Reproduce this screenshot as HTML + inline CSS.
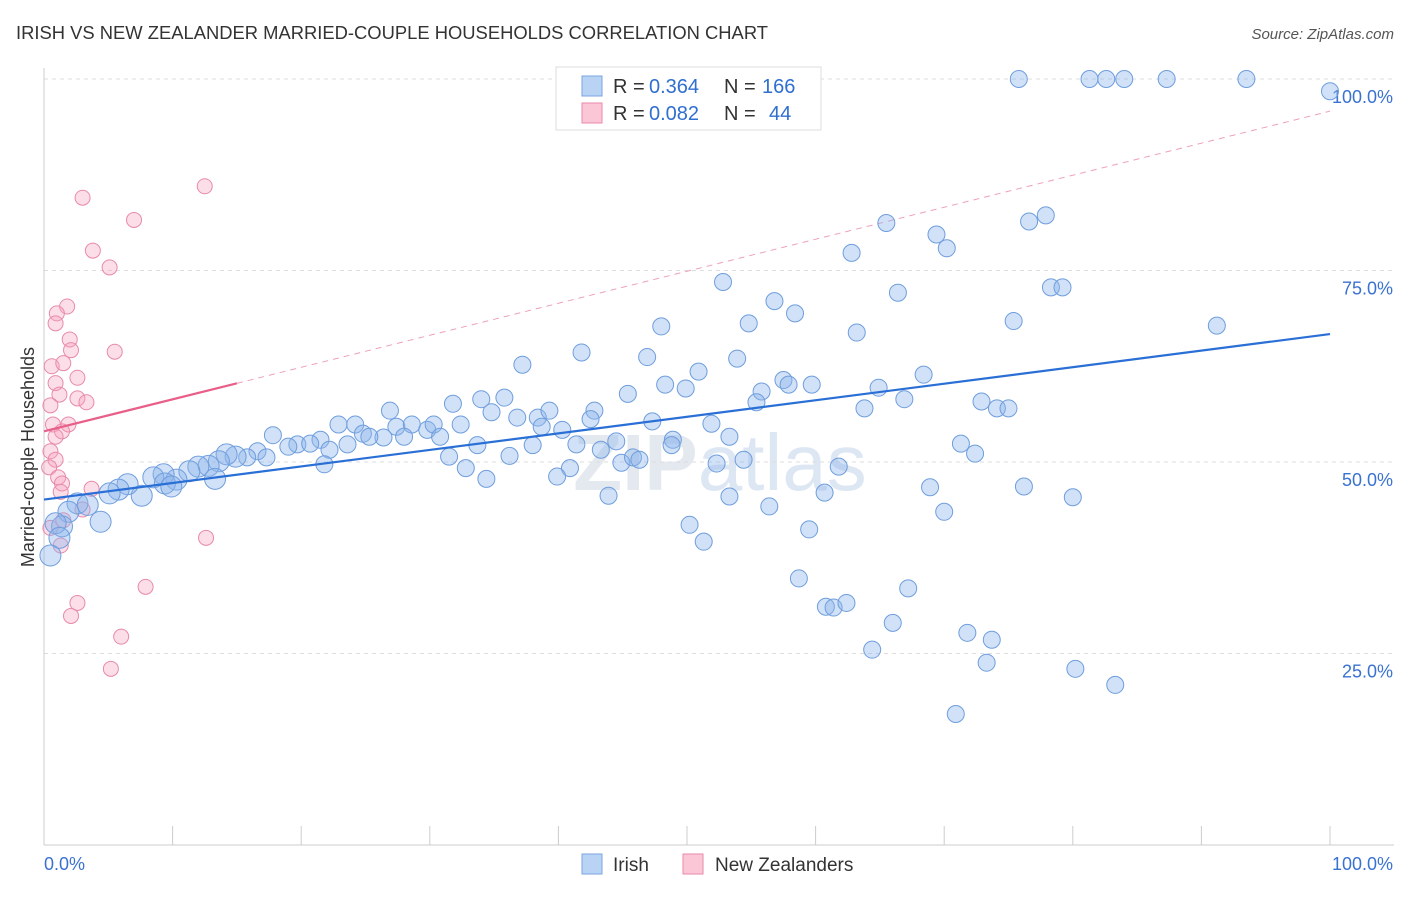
<!DOCTYPE html>
<html><head><meta charset="utf-8"><style>
body{margin:0;background:#fff;font-family:"Liberation Sans",sans-serif;}
svg text{font-family:"Liberation Sans",sans-serif;}
</style></head><body>
<svg id="chart" width="1406" height="892" viewBox="0 0 1406 892" xmlns="http://www.w3.org/2000/svg">
<text x="16" y="39" font-size="18.4" fill="#333" textLength="752" lengthAdjust="spacingAndGlyphs">IRISH VS NEW ZEALANDER MARRIED-COUPLE HOUSEHOLDS CORRELATION CHART</text>
<text x="1394" y="39" font-size="15" fill="#555" text-anchor="end" font-style="italic">Source: ZipAtlas.com</text>
<text x="720" y="490" font-size="80" fill="#e4e9f0" text-anchor="middle" font-weight="bold">ZIP<tspan fill="#dde7f4" font-weight="normal">atlas</tspan></text>
<g id="grid"></g>
<g id="axes"></g>
<g id="trend"></g>
<g id="pts"></g>
<text transform="translate(34,457) rotate(-90)" font-size="18" fill="#333" text-anchor="middle">Married-couple Households</text>
<g>
<rect x="556" y="67" width="265" height="63" fill="#fff" stroke="#ddd"/>
<rect x="582" y="76" width="20" height="20" fill="#b9d3f5" stroke="#7aa6e0"/>
<rect x="582" y="103" width="20" height="20" fill="#fbc7d7" stroke="#e88aab"/>
<text x="613" y="93" font-size="20" fill="#333">R =</text>
<text x="649" y="93" font-size="20" fill="#2f6fd0">0.364</text>
<text x="724" y="93" font-size="20" fill="#333">N =</text>
<text x="762" y="93" font-size="20" fill="#2f6fd0">166</text>
<text x="613" y="120" font-size="20" fill="#333">R =</text>
<text x="649" y="120" font-size="20" fill="#2f6fd0">0.082</text>
<text x="724" y="120" font-size="20" fill="#333">N =</text>
<text x="769" y="120" font-size="20" fill="#2f6fd0">44</text>
</g>
<g>
<rect x="582" y="854" width="20" height="20" fill="#b9d3f5" stroke="#7aa6e0"/>
<text x="613" y="871" font-size="19" fill="#333">Irish</text>
<rect x="683" y="854" width="20" height="20" fill="#fbc7d7" stroke="#e88aab"/>
<text x="715" y="871" font-size="19" fill="#333">New Zealanders</text>
</g>
</svg>
<script>
const yTicks=[25,50,75,100];
const yTickLabels=["25.0%","50.0%","75.0%","100.0%"];
const xTickLabels=["0.0%","100.0%"];
const irishX=[75.8,81.3,82.6,84.0,87.3,93.5,100,65.5,69.4,70.2,76.6,77.9,62.8,52.8,66.4,78.3,79.2,56.8,58.4,48.0,54.8,63.2,75.4,91.2,41.8,46.9,53.9,37.2,50.9,68.4,48.3,49.9,57.5,57.9,59.7,64.9,45.4,55.8,55.4,66.9,34.0,35.8,31.8,72.9,74.1,75.0,63.8,26.9,34.8,36.8,38.4,39.3,42.8,42.5,47.3,51.9,22.9,24.2,27.4,28.6,29.8,30.3,32.4,24.8,26.4,28.0,30.8,25.3,38.7,40.3,21.5,17.8,19.7,20.7,19.0,23.6,22.2,33.7,38.0,41.4,44.5,48.9,53.3,43.3,48.8,31.5,36.2,21.8,32.8,34.4,40.9,39.9,44.9,45.8,46.3,52.3,54.4,61.8,71.3,72.4,16.6,17.3,15.8,14.9,14.2,13.6,12.8,12.0,11.3,10.3,9.3,8.5,9.4,13.3,9.9,7.6,6.5,5.8,5.1,2.6,1.9,3.4,4.4,1.4,0.9,1.2,0.5,60.7,68.9,70.0,76.2,80.0,56.4,50.2,51.3,59.5,58.7,60.8,61.4,62.4,67.2,66.0,71.8,73.7,64.4,73.3,80.2,83.3,70.9,43.9,53.3];
const irishY=[100,100,100,100,100,100,98.4,81.2,79.7,77.9,81.4,82.2,77.3,73.5,72.1,72.8,72.8,71.0,69.4,67.7,68.1,66.9,68.4,67.8,64.3,63.7,63.5,62.7,61.8,61.4,60.1,59.6,60.7,60.1,60.1,59.7,58.9,59.2,57.8,58.2,58.2,58.4,57.6,57.9,57.0,57.0,57.0,56.7,56.5,55.8,55.8,56.7,56.7,55.6,55.3,55.0,54.9,54.9,54.6,54.9,54.2,54.9,54.9,53.7,53.2,53.3,53.3,53.3,54.6,54.2,52.9,53.5,52.3,52.4,52.0,52.3,51.6,52.2,52.2,52.3,52.7,52.9,53.3,51.6,52.2,50.7,50.8,49.7,49.2,47.8,49.2,48.1,49.9,50.6,50.3,49.8,50.3,49.4,52.4,51.1,51.4,50.6,50.6,50.7,51.0,50.1,49.5,49.4,48.8,47.7,48.4,48.0,47.2,47.8,46.8,45.6,47.1,46.4,45.9,44.6,43.5,44.4,42.2,41.6,42.0,40.1,37.8,46.0,46.7,43.5,46.8,45.4,44.2,41.8,39.6,41.2,34.8,31.1,31.0,31.6,33.5,29.0,27.7,26.8,25.5,23.8,23.0,20.9,17.1,45.6,45.5];
const nzX=[3.0,12.5,7.0,3.8,5.1,1.8,1.0,0.9,2.0,2.1,5.5,0.6,1.5,2.6,0.9,1.2,2.6,3.3,0.5,0.7,1.9,1.4,0.9,0.5,0.9,0.4,1.1,1.4,3.7,1.3,3.0,1.5,0.5,12.6,1.3,7.9,2.6,2.1,6.0,5.2];
const nzY=[84.5,86.0,81.6,77.6,75.4,70.3,69.4,68.1,66.0,64.6,64.4,62.5,62.9,61.0,60.3,58.8,58.3,57.8,57.4,54.9,54.9,54.0,53.3,51.4,50.3,49.3,48.0,47.2,46.5,46.1,43.8,42.4,41.4,40.1,39.1,33.7,31.6,29.9,27.2,23.0];
const irishTrend=[45.1,66.7];
const nzTrend=[54.0,95.8];
const nzSolidEnd=15;
const NS="http://www.w3.org/2000/svg";
const X0=44,X1=1330,Y0=845,Y100=79;
const sx=v=>X0+(X1-X0)*v/100;
const sy=v=>Y0-(Y0-Y100)*v/100;
function mk(tag,attrs,parent){const e=document.createElementNS(NS,tag);for(const k in attrs)e.setAttribute(k,attrs[k]);parent.appendChild(e);return e;}
const grid=document.getElementById('grid'),axes=document.getElementById('axes'),trend=document.getElementById('trend'),pts=document.getElementById('pts');
yTicks.forEach((t,i)=>{
 const l=mk('line',{x1:X0,x2:1394,y1:sy(t),y2:sy(t),stroke:'#ddd','stroke-dasharray':'4,4'},grid);
 
 
 const tx=mk('text',{x:1393,y:sy(t)+24,'font-size':18,fill:'#3a72d0','text-anchor':'end'},axes);
 tx.textContent=yTickLabels[i];
 
 
});
const ax=mk('line',{x1:X0,x2:1394,y1:Y0,y2:Y0,stroke:'#ccc'},axes);


const ay=mk('line',{x1:X0,x2:X0,y1:68,y2:Y0,stroke:'#ccc'},axes);


for(let i=0;i<=10;i++){
 const t=mk('line',{x1:sx(i*10),x2:sx(i*10),y1:826,y2:Y0,stroke:'#ccc'},axes);
 
 
}
[[0,'start',44],[100,'end',1393]].forEach((d,i)=>{
 const tx=mk('text',{x:d[2],y:870,'font-size':18,fill:'#3a72d0','text-anchor':d[1]},axes);
 tx.textContent=xTickLabels[i];
 
 
});
const nzv=x=>nzTrend[0]+(nzTrend[1]-nzTrend[0])*x/100;
const nd=mk('line',{x1:sx(nzSolidEnd),y1:sy(nzv(nzSolidEnd)),x2:sx(100),y2:sy(nzv(100)),stroke:'#f0a0b8','stroke-dasharray':'6,5','stroke-width':1},trend);


nzX.forEach((x,i)=>{
 const c=mk('circle',{cx:sx(x),cy:sy(nzY[i]),r:7.5,fill:'rgba(245,160,190,0.35)',stroke:'#e88aab','stroke-width':1},pts);
 
 
});
irishX.forEach((x,i)=>{
 const c=mk('circle',{cx:sx(x),cy:sy(irishY[i]),r:x<15?10.5:8.5,fill:'rgba(140,180,235,0.4)',stroke:'#6f9edd','stroke-width':1},pts);
 
 
});
const it=mk('line',{x1:sx(0),y1:sy(irishTrend[0]),x2:sx(100),y2:sy(irishTrend[1]),stroke:'#2a6fd6','stroke-width':2.2},pts);


const nt=mk('line',{x1:sx(0),y1:sy(nzv(0)),x2:sx(nzSolidEnd),y2:sy(nzv(nzSolidEnd)),stroke:'#e8608a','stroke-width':2.2},pts);


</script>
</body></html>
